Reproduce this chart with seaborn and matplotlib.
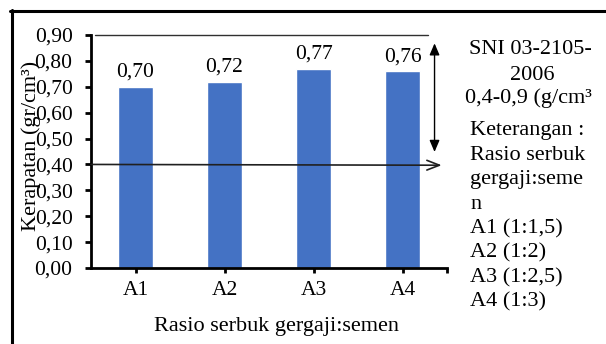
import matplotlib
matplotlib.use("Agg")
import matplotlib.pyplot as plt
from matplotlib.lines import Line2D
from matplotlib.ticker import FuncFormatter
import seaborn as sns
import pandas as pd

# Density of sawdust-cement boards per mix ratio
categories = ["A1", "A2", "A3", "A4"]
densities = [0.70, 0.72, 0.77, 0.76]
ratios = ["1:1,5", "1:2", "1:2,5", "1:3"]
y_ticks = [0.0, 0.1, 0.2, 0.3, 0.4, 0.5, 0.6, 0.7, 0.8, 0.9]

# SNI 03-2105-2006 density range
sni_min = 0.4
sni_max = 0.9

def comma(v, nd=2):
    return f"{v:.{nd}f}".replace(".", ",")

sns.set_style("white")
plt.rcParams["font.family"] = ["Liberation Serif", "DejaVu Serif"]
plt.rcParams["text.color"] = "#000000"

W, H = 606, 344
fig = plt.figure(figsize=(W / 100, H / 100), dpi=100)
ax = fig.add_axes([91 / W, 76 / H, 356 / W, 233 / H])

df = pd.DataFrame({"kode": categories, "kerapatan": densities})
sns.barplot(data=df, x="kode", y="kerapatan", color="#4472C4",
            saturation=1, width=0.4, ax=ax, zorder=2)

for cont in ax.containers:
    ax.bar_label(cont, labels=[comma(v) for v in densities],
                 padding=3.5, fontsize=15.5)

ax.set_xlim(-0.5, 3.5)
ax.set_ylim(0, sni_max)
ax.set_yticks(y_ticks)
ax.yaxis.set_major_formatter(FuncFormatter(lambda v, p: comma(v)))
ax.set_xticks([0, 1, 2, 3, 3.5])
ax.set_xticklabels(categories + [""])
ax.set_xlabel("")
ax.set_ylabel("")

for side in ["top", "right"]:
    ax.spines[side].set_visible(False)
for side in ["left", "bottom"]:
    ax.spines[side].set_color("black")
    ax.spines[side].set_linewidth(2.0)
ax.tick_params(axis="y", direction="out", length=4.3, width=2.0,
               pad=9, labelsize=15.5, left=True, colors="black")
ax.tick_params(axis="x", direction="out", length=3.6, width=2.0,
               pad=6, labelsize=15.5, bottom=True, colors="black")

# Upper SNI limit line
ax.plot([-0.46, 3.29], [sni_max, sni_max], color="#303030", lw=1.0,
        clip_on=False, zorder=3)
# Lower SNI limit arrow
ax.annotate("", xy=(3.44, sni_min - 0.003), xytext=(-0.5, sni_min),
            arrowprops=dict(arrowstyle="->,head_length=0.9,head_width=0.35",
                            color="#202020", lw=1.2, shrinkA=0, shrinkB=0),
            annotation_clip=False, zorder=4)
# SNI range double arrow
ax.annotate("", xy=(3.36, sni_max), xytext=(3.36, sni_min),
            arrowprops=dict(arrowstyle="<|-|>,head_length=0.7,head_width=0.3",
                            color="black", lw=1.0, shrinkA=9, shrinkB=6),
            annotation_clip=False, zorder=4)

# Axis titles
fig.text(31 / W, 1 - 146 / H, "Kerapatan (gr/cm³)", rotation=90,
         ha="center", va="center", fontsize=16)
fig.text(276 / W, 1 - 327 / H, "Rasio serbuk gergaji:semen",
         ha="center", va="center", fontsize=16)

# Side notes
fs = 16
fig.text(530 / W, 1 - 50 / H, "SNI 03-2105-", ha="center", va="center", fontsize=fs)
fig.text(532 / W, 1 - 75 / H, "2006", ha="center", va="center", fontsize=fs)
fig.text(528 / W, 1 - 98 / H,
         f"{comma(sni_min, 1)}-{comma(sni_max, 1)} (g/cm³",
         ha="center", va="center", fontsize=fs)
notes = ["Keterangan :", "Rasio serbuk", "gergaji:seme", "n"] + \
        [f"{c} ({r})" for c, r in zip(categories, ratios)]
y0, dy = 131, 24.4
for i, line in enumerate(notes):
    fig.text(470 / W, 1 - (y0 + i * dy) / H, line, ha="left", va="center",
             fontsize=fs)

# Outer frame (left and top edges)
fig.add_artist(Line2D([11.5 / W, 11.5 / W], [0, 1 - 10 / H],
                      transform=fig.transFigure, color="black", lw=2.2))
fig.add_artist(Line2D([10 / W, 1], [1 - 11 / H, 1 - 11 / H],
                      transform=fig.transFigure, color="black", lw=2.2))

fig.savefig("out.png", dpi=100, facecolor="white")
